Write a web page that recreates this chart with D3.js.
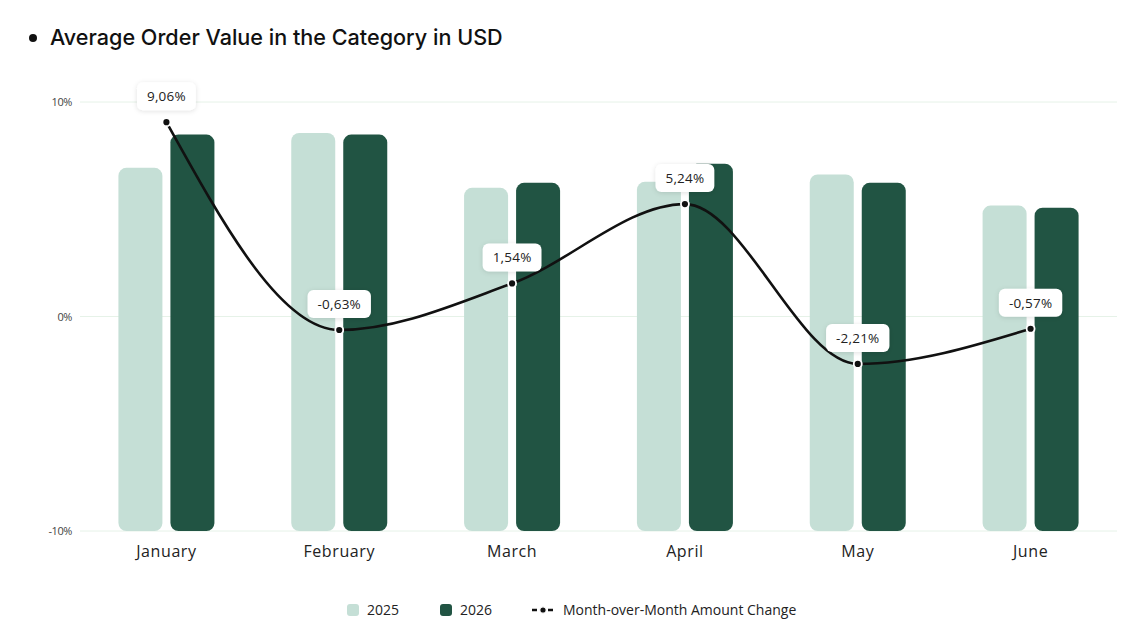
<!DOCTYPE html>
<html lang="en">
<head>
    <meta charset="UTF-8">
    <script src="https://d3js.org/d3.v7.min.js"></script>
    <style>
        body {
            margin: 0;
            background: #fff;
            font-family: "Open Sans", sans-serif;
        }
        svg { display: block; }
    </style>
</head>
<body>
    <div id="chart"></div>
    <script>
        // data
        const months = ["January", "February", "March", "April", "May", "June"];
        const values2025 = [6.93, 8.56, 6.0, 6.28, 6.62, 5.17];
        const values2026 = [8.48, 8.48, 6.23, 7.12, 6.23, 5.07];
        const momChange = [9.06, -0.63, 1.54, 5.24, -2.21, -0.57];
        const yTicks = [-10, 0, 10];

        const width = 1148, height = 623;
        const margin = { top: 102, right: 31, bottom: 92, left: 80 };
        const color2025 = "#c5dfd6", color2026 = "#215443";

        const svg = d3.select("#chart").append("svg")
            .attr("width", width)
            .attr("height", height);

        const defs = svg.append("defs");
        const shadow = defs.append("filter").attr("id", "shadow")
            .attr("x", "-30%").attr("y", "-30%").attr("width", "160%").attr("height", "180%");
        shadow.append("feDropShadow")
            .attr("dx", 0).attr("dy", 1).attr("stdDeviation", 2.5)
            .attr("flood-color", "#000").attr("flood-opacity", 0.12);

        // title
        svg.append("circle").attr("cx", 33).attr("cy", 38).attr("r", 4).attr("fill", "#111");
        svg.append("text")
            .attr("x", 50).attr("y", 45)
            .attr("font-family", "Inter, sans-serif")
            .attr("font-size", 21.6)
            .attr("font-weight", 500)
            .attr("fill", "#111")
            .text("Average Order Value in the Category in USD");

        const x = d3.scaleBand()
            .domain(months)
            .range([margin.left, width - margin.right]);

        const y = d3.scaleLinear()
            .domain([-10, 10])
            .range([height - margin.bottom, margin.top]);

        const barW = 44, barGap = 8;

        // grid
        svg.append("g")
            .selectAll("line")
            .data(yTicks)
            .enter().append("line")
            .attr("x1", margin.left)
            .attr("x2", width - margin.right)
            .attr("y1", d => y(d))
            .attr("y2", d => y(d))
            .attr("stroke", "#e6f2e8")
            .attr("stroke-width", 1);

        // y axis labels
        svg.append("g")
            .selectAll("text")
            .data(yTicks)
            .enter().append("text")
            .attr("x", 72)
            .attr("y", d => y(d) + 4)
            .attr("text-anchor", "end")
            .attr("font-size", 11)
            .attr("letter-spacing", -0.4)
            .attr("fill", "#444")
            .text(d => d + "%");

        // x labels
        svg.append("g")
            .selectAll("text")
            .data(months)
            .enter().append("text")
            .attr("x", d => x(d) + x.bandwidth() / 2)
            .attr("y", 557)
            .attr("text-anchor", "middle")
            .attr("font-size", 16)
            .attr("letter-spacing", 0.6)
            .attr("fill", "#222")
            .text(d => d);

        // bars
        const bars = svg.append("g");
        const barData = months.flatMap((m, i) => [
            { m, v: values2025[i], off: -barGap / 2 - barW, c: color2025 },
            { m, v: values2026[i], off: barGap / 2, c: color2026 }
        ]);
        bars.selectAll("rect")
            .data(barData)
            .enter().append("rect")
            .attr("x", d => x(d.m) + x.bandwidth() / 2 + d.off)
            .attr("y", d => y(d.v))
            .attr("width", barW)
            .attr("height", d => y(-10) - y(d.v))
            .attr("rx", 8)
            .attr("fill", d => d.c);

        // line
        const pts = months.map((m, i) => [x(m) + x.bandwidth() / 2, y(momChange[i])]);
        const line = d3.line().curve(d3.curveMonotoneX);

        svg.append("path")
            .attr("d", line(pts))
            .attr("fill", "none")
            .attr("stroke", "#111")
            .attr("stroke-width", 2.6)
            .attr("stroke-linecap", "round");

        svg.append("g")
            .selectAll("circle")
            .data(pts)
            .enter().append("circle")
            .attr("cx", d => d[0])
            .attr("cy", d => d[1])
            .attr("r", 4)
            .attr("fill", "#111")
            .attr("stroke", "#fff")
            .attr("stroke-width", 1.8);

        // value labels
        const fmt = v => v.toFixed(2).replace(".", ",") + "%";
        const labels = svg.append("g")
            .selectAll("g")
            .data(months.map((m, i) => ({ p: pts[i], t: fmt(momChange[i]) })))
            .enter().append("g")
            .attr("transform", d => `translate(${d.p[0]},${d.p[1] - 12})`);

        labels.append("rect")
            .attr("y", -28)
            .attr("height", 28)
            .attr("rx", 6)
            .attr("fill", "#fff")
            .attr("filter", "url(#shadow)");

        labels.append("text")
            .attr("y", -9)
            .attr("text-anchor", "middle")
            .attr("font-size", 13.5)
            .attr("letter-spacing", 0.2)
            .attr("fill", "#222")
            .text(d => d.t);

        labels.each(function () {
            const g = d3.select(this);
            const w = g.select("text").node().getComputedTextLength() + 20;
            g.select("rect").attr("x", -w / 2).attr("width", w);
        });

        // legend
        const legend = svg.append("g").attr("font-size", 14).attr("fill", "#222");
        legend.append("rect").attr("x", 347).attr("y", 604).attr("width", 12).attr("height", 12)
            .attr("rx", 3).attr("fill", color2025);
        legend.append("text").attr("x", 367).attr("y", 615).text("2025");
        legend.append("rect").attr("x", 440).attr("y", 604).attr("width", 12).attr("height", 12)
            .attr("rx", 3).attr("fill", color2026);
        legend.append("text").attr("x", 460).attr("y", 615).text("2026");
        legend.append("line").attr("x1", 532).attr("x2", 554).attr("y1", 610).attr("y2", 610)
            .attr("stroke", "#111").attr("stroke-width", 2.4).attr("stroke-dasharray", "5 3");
        legend.append("circle").attr("cx", 543).attr("cy", 610).attr("r", 3.2).attr("fill", "#111")
            .attr("stroke", "#fff").attr("stroke-width", 1.2);
        legend.append("text").attr("x", 563).attr("y", 615).text("Month-over-Month Amount Change");
    </script>
</body>
</html>
